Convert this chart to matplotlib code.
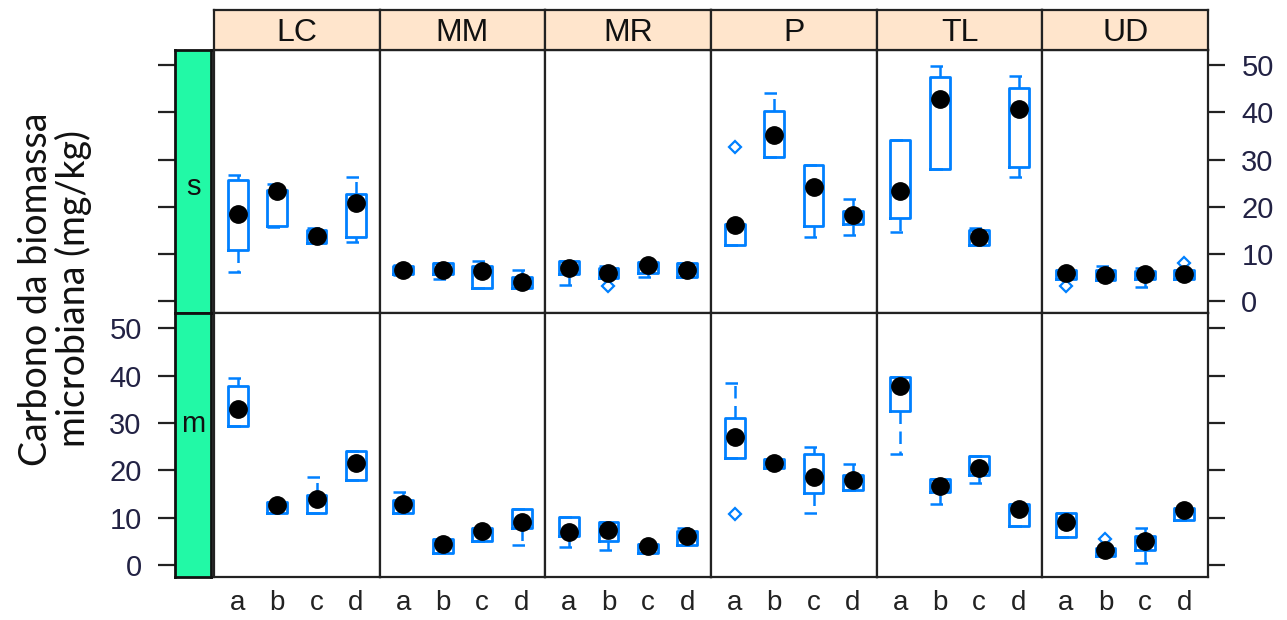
import matplotlib
matplotlib.use("Agg")
import matplotlib.pyplot as plt
import numpy as np

# ---------------- data ----------------
sites = ["LC", "MM", "MR", "P", "TL", "UD"]
groups = ["a", "b", "c", "d"]
rows = ["s", "m"]

# row "s" (top panels): per site, 4 groups
s_lo  = [[6.2, 15.8, 12.3, 12.5], [5.6, 4.8, 2.7, 2.7], [3.4, 5.0, 5.2, 5.2],
         [12.0, 30.5, 13.7, 14.1], [14.6, 27.9, 12.0, 26.2], [4.8, 4.5, 3.1, 4.8]]
s_q1  = [[10.9, 16.0, 12.3, 13.7], [5.7, 5.7, 2.7, 2.7], [5.7, 5.0, 6.0, 5.2],
         [12.0, 30.5, 16.0, 16.3], [17.7, 27.9, 12.0, 28.4], [4.8, 4.5, 4.8, 4.8]]
s_med = [[18.4, 23.3, 13.9, 20.7], [6.7, 6.7, 6.4, 4.1], [7.1, 6.0, 7.6, 6.7],
         [16.2, 35.3, 24.2, 18.3], [23.3, 42.8, 13.5, 40.7], [6.0, 5.5, 5.8, 5.8]]
s_q3  = [[25.6, 23.5, 15.1, 22.7], [7.4, 8.0, 7.4, 5.2], [8.5, 7.1, 8.3, 8.0],
         [16.4, 40.3, 28.8, 19.0], [34.2, 47.5, 15.1, 45.2], [6.7, 6.6, 6.4, 6.7]]
s_hi  = [[26.7, 24.8, 15.5, 26.2], [7.6, 8.0, 8.5, 6.6], [8.5, 7.4, 8.3, 8.0],
         [16.4, 44.0, 28.8, 21.6], [34.2, 49.8, 15.5, 47.6], [6.7, 7.4, 7.1, 6.7]]
s_out = [[[], [], [], []], [[], [], [], []], [[], [3.2], [], []],
         [[32.6], [], [], []], [[], [], [], []], [[3.2], [], [], [8.1]]]

# row "m" (bottom panels)
m_lo  = [[29.4, 11.1, 11.1, 17.9], [11.1, 2.6, 5.1, 4.2], [3.8, 3.3, 2.6, 4.3],
         [22.7, 20.4, 11.1, 15.9], [23.5, 12.8, 17.3, 8.2], [6.0, 1.9, 0.5, 9.5]]
m_q1  = [[29.4, 11.1, 11.1, 17.9], [11.1, 2.6, 5.1, 7.9], [6.2, 5.2, 2.6, 4.3],
         [22.7, 20.4, 15.2, 15.9], [32.6, 15.4, 19.1, 8.2], [6.0, 1.9, 3.3, 9.5]]
m_med = [[32.9, 12.6, 14.0, 21.6], [13.0, 4.4, 7.2, 9.2], [6.9, 7.4, 4.0, 6.2],
         [27.1, 21.6, 18.6, 17.9], [37.9, 16.7, 20.4, 11.8], [9.0, 3.1, 5.0, 11.6]]
m_q3  = [[37.9, 13.3, 14.7, 24.0], [13.8, 5.5, 7.9, 11.8], [10.1, 9.2, 4.5, 7.2],
         [31.0, 22.3, 23.5, 19.1], [39.7, 18.1, 23.1, 12.9], [11.0, 3.7, 6.2, 12.1]]
m_hi  = [[39.4, 13.3, 18.7, 24.0], [15.5, 5.5, 7.9, 11.8], [10.1, 9.2, 4.5, 7.8],
         [38.4, 22.3, 25.0, 21.4], [39.7, 18.1, 23.1, 12.9], [11.0, 3.7, 7.9, 12.1]]
m_out = [[[], [], [], []], [[], [], [], []], [[], [], [], []],
         [[10.8], [], [], []], [[], [], [], []], [[], [5.5], [], []]]

y_ticks = [0, 10, 20, 30, 40, 50]
y_label = "Carbono da biomassa\nmicrobiana (mg/kg)"

# ---------------- layout ----------------
W, H = 1287, 620
fig = plt.figure(figsize=(W / 100, H / 100), dpi=100)
fig.patch.set_facecolor("white")


def rect(x0, y0, x1, y1):
    return [x0 / W, 1 - y1 / H, (x1 - x0) / W, (y1 - y0) / H]


TICKFONT = dict(family=["Liberation Sans", "DejaVu Sans"], size=21)
XFONT = dict(family=["Liberation Sans", "DejaVu Sans"], size=20)
BLUE = "#0080ff"
FRAME = "#222222"
YLIM = (-2.5, 53.2)
col_x = np.linspace(214, 1208, 7)
row_y = [(50, 313), (313, 577)]
positions = [1, 2, 3, 4]

data = {
    "s": (s_lo, s_q1, s_med, s_q3, s_hi, s_out),
    "m": (m_lo, m_q1, m_med, m_q3, m_hi, m_out),
}

dash = (0, (5, 3))

for r, row in enumerate(rows):
    y0, y1 = row_y[r]
    lo, q1, med, q3, hi, out = data[row]
    for c, site in enumerate(sites):
        ax = fig.add_axes(rect(col_x[c], y0, col_x[c + 1], y1))
        stats = []
        for g in range(4):
            stats.append(dict(med=med[c][g], q1=q1[c][g], q3=q3[c][g],
                              whislo=lo[c][g], whishi=hi[c][g],
                              fliers=out[c][g], label=groups[g]))
        ax.bxp(stats, positions=positions, widths=0.5, capwidths=0.5,
               showfliers=True, patch_artist=False,
               boxprops=dict(color=BLUE, linewidth=2.0),
               whiskerprops=dict(color=BLUE, linewidth=1.8, linestyle=dash),
               capprops=dict(color=BLUE, linewidth=1.8, linestyle=dash),
               medianprops=dict(visible=False),
               flierprops=dict(marker="D", markersize=6.5, markerfacecolor="white",
                               markeredgecolor=BLUE, markeredgewidth=1.6,
                               linestyle="none"))
        ax.plot(positions, med[c], "o", color="black", markersize=12.5, zorder=5)
        ax.set_xlim(0.4, 4.6)
        ax.set_ylim(*YLIM)
        for sp in ax.spines.values():
            sp.set_linewidth(1.6)
            sp.set_color(FRAME)
        if r == 1:
            ax.set_xticks(positions, groups)
            ax.tick_params(axis="x", length=0, pad=9, labelcolor="#222222")
            for t in ax.get_xticklabels():
                t.set_fontproperties(matplotlib.font_manager.FontProperties(**XFONT))
        else:
            ax.set_xticks([])
        if c == len(sites) - 1:
            ax.yaxis.tick_right()
            ax.set_yticks(y_ticks)
            ax.tick_params(axis="y", length=12, width=1.6, color=FRAME, pad=12,
                           labelright=(r == 0), labelcolor="#222244")
            for t in ax.get_yticklabels():
                t.set_fontproperties(matplotlib.font_manager.FontProperties(**TICKFONT))
        else:
            ax.set_yticks([])

        # top strips
        if r == 0:
            st = fig.add_axes(rect(col_x[c], 10, col_x[c + 1], 50))
            st.set_facecolor("#FFE5CC")
            st.set_xticks([])
            st.set_yticks([])
            for sp in st.spines.values():
                sp.set_linewidth(1.6)
                sp.set_color(FRAME)
            st.text(0.5, 0.42, site, ha="center", va="center",
                    family=["Liberation Sans", "DejaVu Sans"], size=23,
                    color="#111111", transform=st.transAxes)

    # left strip (green)
    ls = fig.add_axes(rect(175, y0, 211, y1))
    ls.set_facecolor("#22F9A6")
    ls.set_xticks([])
    ls.set_ylim(*YLIM)
    ls.set_yticks(y_ticks)
    ls.tick_params(axis="y", length=12, width=1.6, color=FRAME, pad=12,
                   labelleft=(r == 1), labelcolor="#222244")
    for t in ls.get_yticklabels():
        t.set_fontproperties(matplotlib.font_manager.FontProperties(**TICKFONT))
    for sp in ls.spines.values():
        sp.set_linewidth(2)
        sp.set_color("#111111")
    ty = 0.48 if r == 0 else 0.58
    ls.text(0.5, ty, row, ha="center", va="center",
            family=["Liberation Sans", "DejaVu Sans"], size=21,
            color="#111111", transform=ls.transAxes)

fig.text(55 / W, 1 - 289 / H, y_label, rotation=90, ha="center", va="center",
         multialignment="center", family=["Lato", "DejaVu Sans"], size=27,
         color="#111111", linespacing=1.02)

fig.savefig("out.png", dpi=100, facecolor="white")
